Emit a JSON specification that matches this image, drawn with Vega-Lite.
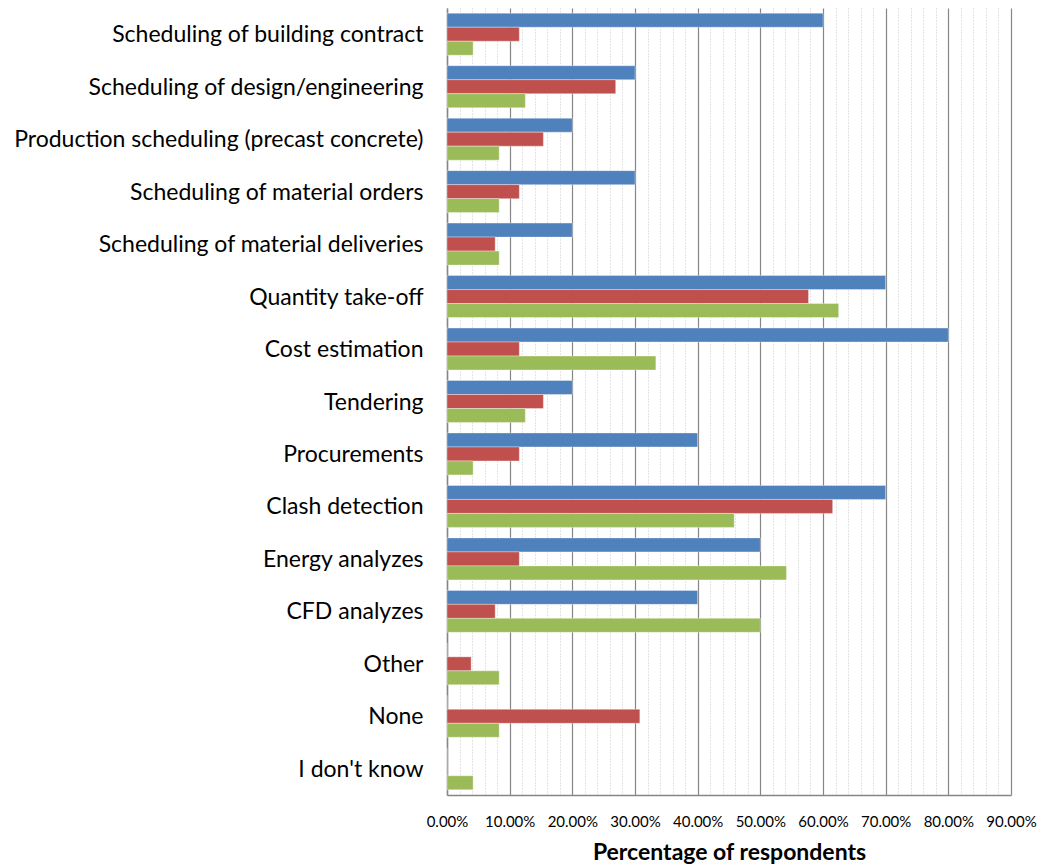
{
  "$schema": "https://vega.github.io/schema/vega-lite/v6.json",
  "width": 564,
  "height": 787,
  "autosize": {"type": "none"},
  "padding": {"left": 447, "top": 8, "right": 41, "bottom": 69},
  "background": "white",
  "config": {"view": {"stroke": null}, "font": "Lato"},
  "data": {
    "values": [
      {"use": "Scheduling of building contract", "group": "A", "pct": 60},
      {"use": "Scheduling of building contract", "group": "B", "pct": 11.54},
      {"use": "Scheduling of building contract", "group": "C", "pct": 4.17},
      {"use": "Scheduling of design/engineering", "group": "A", "pct": 30},
      {"use": "Scheduling of design/engineering", "group": "B", "pct": 26.92},
      {"use": "Scheduling of design/engineering", "group": "C", "pct": 12.5},
      {"use": "Production scheduling (precast concrete)", "group": "A", "pct": 20},
      {"use": "Production scheduling (precast concrete)", "group": "B", "pct": 15.38},
      {"use": "Production scheduling (precast concrete)", "group": "C", "pct": 8.33},
      {"use": "Scheduling of material orders", "group": "A", "pct": 30},
      {"use": "Scheduling of material orders", "group": "B", "pct": 11.54},
      {"use": "Scheduling of material orders", "group": "C", "pct": 8.33},
      {"use": "Scheduling of material deliveries", "group": "A", "pct": 20},
      {"use": "Scheduling of material deliveries", "group": "B", "pct": 7.69},
      {"use": "Scheduling of material deliveries", "group": "C", "pct": 8.33},
      {"use": "Quantity take-off", "group": "A", "pct": 70},
      {"use": "Quantity take-off", "group": "B", "pct": 57.69},
      {"use": "Quantity take-off", "group": "C", "pct": 62.5},
      {"use": "Cost estimation", "group": "A", "pct": 80},
      {"use": "Cost estimation", "group": "B", "pct": 11.54},
      {"use": "Cost estimation", "group": "C", "pct": 33.33},
      {"use": "Tendering", "group": "A", "pct": 20},
      {"use": "Tendering", "group": "B", "pct": 15.38},
      {"use": "Tendering", "group": "C", "pct": 12.5},
      {"use": "Procurements", "group": "A", "pct": 40},
      {"use": "Procurements", "group": "B", "pct": 11.54},
      {"use": "Procurements", "group": "C", "pct": 4.17},
      {"use": "Clash detection", "group": "A", "pct": 70},
      {"use": "Clash detection", "group": "B", "pct": 61.54},
      {"use": "Clash detection", "group": "C", "pct": 45.83},
      {"use": "Energy analyzes", "group": "A", "pct": 50},
      {"use": "Energy analyzes", "group": "B", "pct": 11.54},
      {"use": "Energy analyzes", "group": "C", "pct": 54.17},
      {"use": "CFD analyzes", "group": "A", "pct": 40},
      {"use": "CFD analyzes", "group": "B", "pct": 7.69},
      {"use": "CFD analyzes", "group": "C", "pct": 50},
      {"use": "Other", "group": "A", "pct": 0},
      {"use": "Other", "group": "B", "pct": 3.85},
      {"use": "Other", "group": "C", "pct": 8.33},
      {"use": "None", "group": "A", "pct": 0},
      {"use": "None", "group": "B", "pct": 30.77},
      {"use": "None", "group": "C", "pct": 8.33},
      {"use": "I don't know", "group": "A", "pct": 0},
      {"use": "I don't know", "group": "B", "pct": 0},
      {"use": "I don't know", "group": "C", "pct": 4.17}
    ]
  },
  "mark": {"type": "bar", "stroke": "white", "strokeOpacity": 0.35, "strokeWidth": 1},
  "encoding": {
    "y": {
      "field": "use",
      "type": "nominal",
      "sort": null,
      "scale": {"paddingInner": 0.2, "paddingOuter": 0.1},
      "axis": {
        "title": null,
        "ticks": false,
        "labelPadding": 24,
        "labelOffset": 1,
        "labelFontSize": 23,
        "labelColor": "black",
        "labelLimit": 600,
        "domain": true,
        "domainColor": "#868686",
        "domainWidth": 1.5,
        "grid": false
      }
    },
    "yOffset": {
      "field": "group",
      "type": "nominal",
      "sort": ["A", "B", "C"],
      "scale": {"paddingInner": 0, "paddingOuter": 0}
    },
    "x": {
      "field": "pct",
      "type": "quantitative",
      "scale": {"domain": [0, 90], "nice": false},
      "axis": {
        "values": [0, 2, 4, 6, 8, 10, 12, 14, 16, 18, 20, 22, 24, 26, 28, 30, 32, 34, 36, 38, 40, 42, 44, 46, 48, 50, 52, 54, 56, 58, 60, 62, 64, 66, 68, 70, 72, 74, 76, 78, 80, 82, 84, 86, 88, 90],
        "labelExpr": "round(datum.value) % 10 === 0 ? format(datum.value / 100, '.2%') : ''",
        "labelOverlap": false,
        "labelFlush": false,
        "labelFontSize": 15,
        "labelColor": "black",
        "labelPadding": 19,
        "ticks": false,
        "domain": true,
        "domainColor": "#868686",
        "domainWidth": 1.5,
        "grid": true,
        "gridColor": {"condition": {"test": "round(datum.value) % 10 === 0", "value": "#868686"}, "value": "#c8c8c8"},
        "gridWidth": {"condition": {"test": "round(datum.value) % 10 === 0", "value": 1.2}, "value": 1},
        "gridDash": {"condition": {"test": "round(datum.value) % 10 === 0", "value": []}, "value": [1, 2]},
        "title": "Percentage of respondents",
        "titleFontSize": 23,
        "titleFontWeight": "bold",
        "titleColor": "black",
        "titlePadding": 12
      }
    },
    "color": {
      "field": "group",
      "type": "nominal",
      "scale": {"domain": ["A", "B", "C"], "range": ["#4F81BD", "#C0504D", "#9BBB59"]},
      "legend": null
    }
  }
}
